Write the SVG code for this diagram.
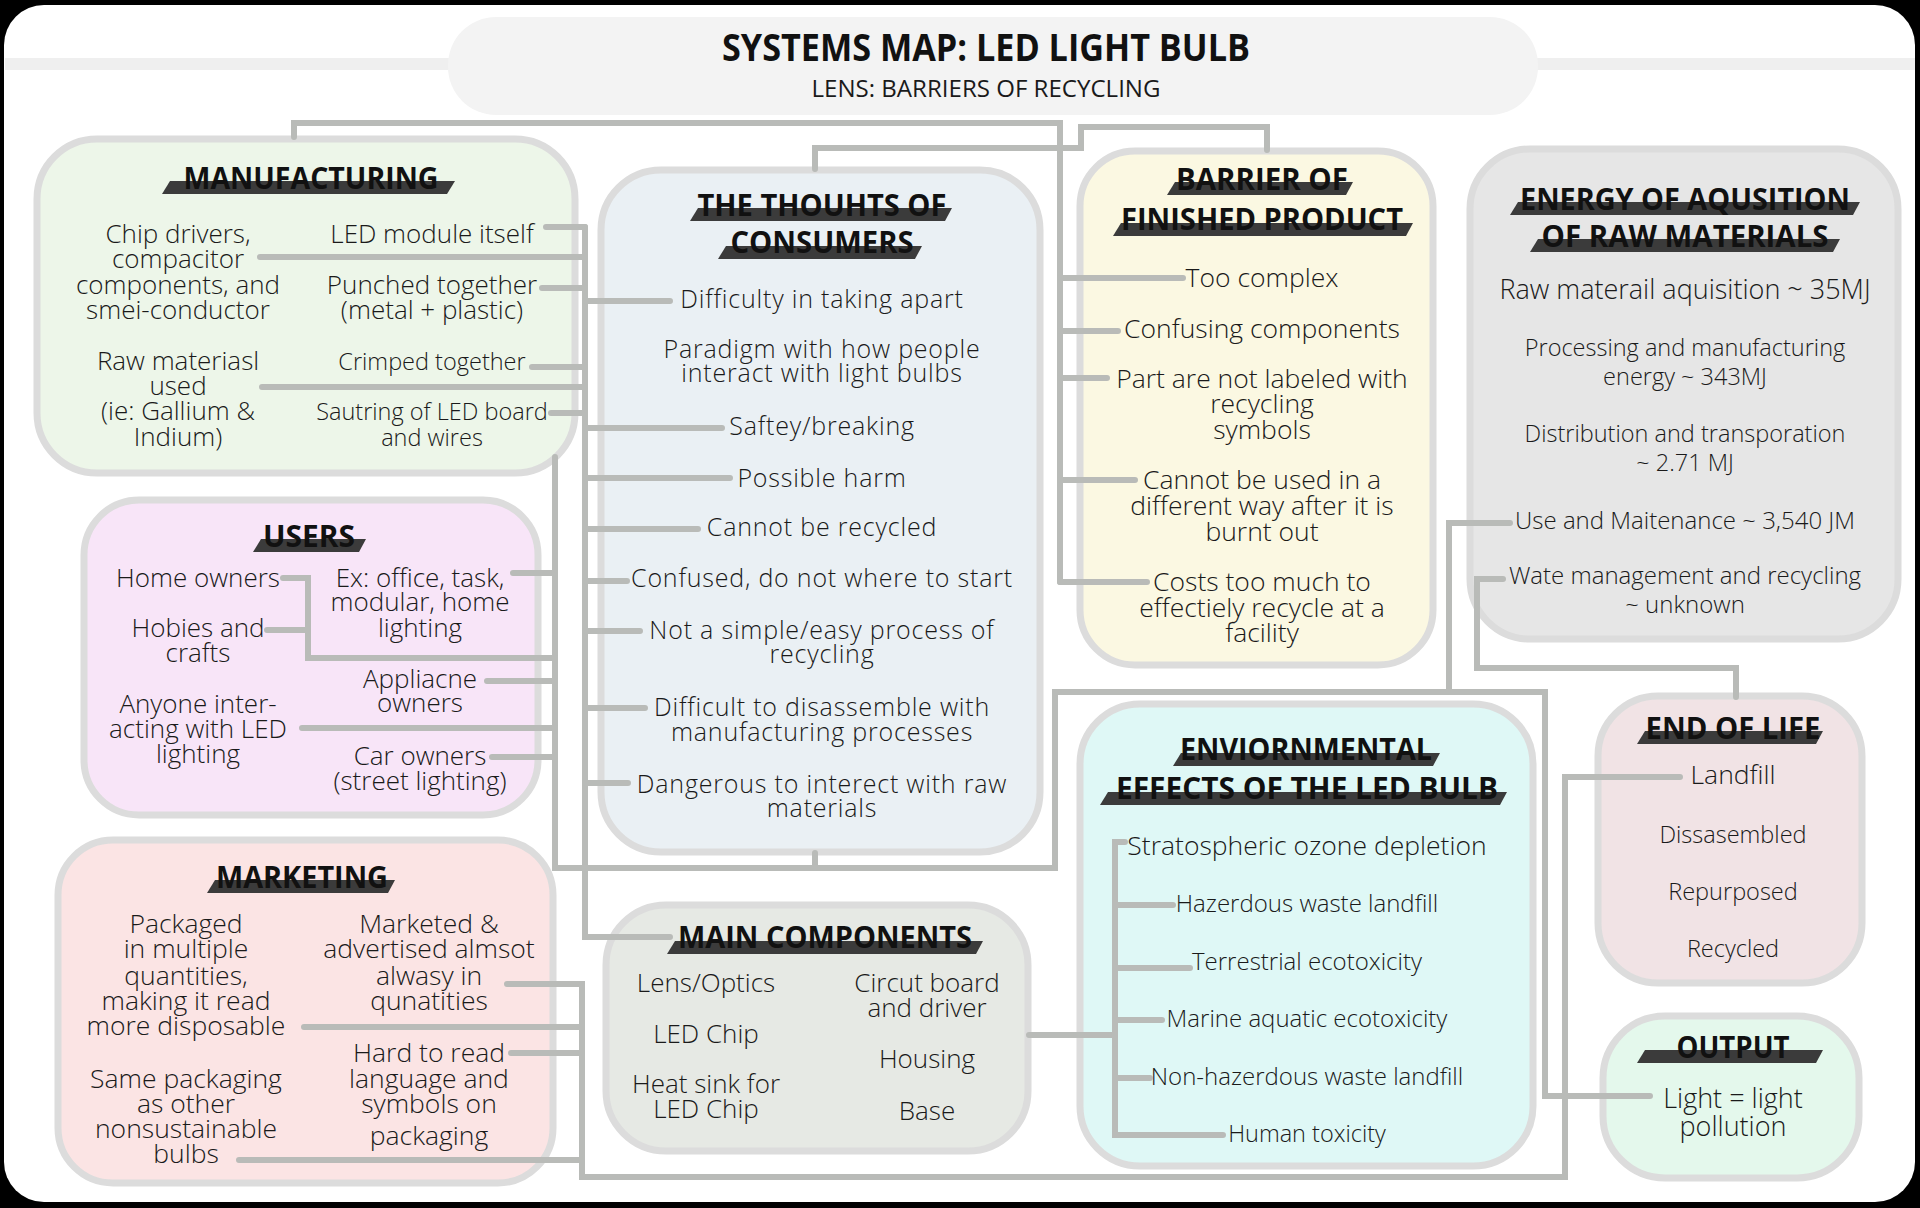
<svg xmlns="http://www.w3.org/2000/svg" width="1920" height="1208" viewBox="0 0 1920 1208">
<style>
.box{stroke:#dcdcdc;stroke-width:7}
.hd{font-family:"Open Sans","Liberation Sans",sans-serif;font-weight:700;font-size:31px;fill:#111;text-anchor:middle}
.bar{fill:#3b3b3b}
.t{font-family:"Open Sans","Liberation Sans",sans-serif;font-weight:300;font-size:26px;fill:#1a1a1a;text-anchor:middle}
.cs{font-size:25px;letter-spacing:0.8px}
.s23{font-size:23.5px}
.s24{font-size:24px}
.s26{font-size:26.5px}
.c{fill:none;stroke:#b9bbb8;stroke-width:6;stroke-linecap:round;stroke-linejoin:miter}
</style>
<rect x="0" y="0" width="1920" height="1208" fill="#000"/>
<rect x="4" y="5" width="1911" height="1197" rx="40" fill="#fff"/>
<rect x="5" y="58" width="1910" height="12" fill="#efefef"/>

<g id="title">
<rect x="448" y="17" width="1090" height="98" rx="48" fill="#f3f3f3"/>
<text x="986" y="61" class="hd" style="font-size:38px" textLength="528" lengthAdjust="spacingAndGlyphs">SYSTEMS MAP: LED LIGHT BULB</text>
<text x="986" y="97" class="t" style="font-size:23px;font-weight:400" textLength="349" lengthAdjust="spacingAndGlyphs">LENS: BARRIERS OF RECYCLING</text>
</g>

<g id="manufacturing">
<rect class="box" x="37" y="139" width="538" height="334" rx="60" fill="#edf6e9"/>
<polygon class="bar" points="170,181 455,181 447,194 162,194"/>
<text class="hd" x="311" y="189" textLength="255" lengthAdjust="spacingAndGlyphs">MANUFACTURING</text>
<text class="t" x="178" y="243">Chip drivers,<tspan x="178" y="268">compacitor</tspan><tspan x="178" y="294">components, and</tspan><tspan x="178" y="319">smei-conductor</tspan></text>
<text class="t" x="178" y="370">Raw materiasl<tspan x="178" y="395">used</tspan><tspan x="178" y="420">(ie: Gallium &amp;</tspan><tspan x="178" y="446">Indium)</tspan></text>
<text class="t" x="432" y="243">LED module itself</text>
<text class="t" x="432" y="294">Punched together<tspan x="432" y="319">(metal + plastic)</tspan></text>
<text class="t s23" x="432" y="370">Crimped together</text>
<text class="t s23" x="432" y="420">Sautring of LED board<tspan x="432" y="446">and wires</tspan></text>
</g>

<g id="consumers">
<rect class="box" x="601" y="170" width="439" height="682" rx="60" fill="#eaf0f4"/>
<polygon class="bar" points="698,208 952,208 945,221 690,221"/>
<text class="hd" x="822" y="216" textLength="249" lengthAdjust="spacingAndGlyphs">THE THOUHTS OF</text>
<polygon class="bar" points="726,246 922,246 915,259 718,259"/>
<text class="hd" x="822" y="253" textLength="183" lengthAdjust="spacingAndGlyphs">CONSUMERS</text>
<text class="t cs" x="822" y="308">Difficulty in taking apart</text>
<text class="t cs" x="822" y="358">Paradigm with how people<tspan x="822" y="382">interact with light bulbs</tspan></text>
<text class="t cs" x="822" y="435">Saftey/breaking</text>
<text class="t cs" x="822" y="487">Possible harm</text>
<text class="t cs" x="822" y="536">Cannot be recycled</text>
<text class="t cs" x="822" y="587">Confused, do not where to start</text>
<text class="t cs" x="822" y="639">Not a simple/easy process of<tspan x="822" y="663">recycling</tspan></text>
<text class="t cs" x="822" y="716">Difficult to disassemble with<tspan x="822" y="741">manufacturing processes</tspan></text>
<text class="t cs" x="822" y="793">Dangerous to interect with raw<tspan x="822" y="817">materials</tspan></text>
</g>

<g id="barrier">
<rect class="box" x="1080" y="151" width="353" height="514" rx="55" fill="#fbf8e2"/>
<polygon class="bar" points="1175,182 1353,182 1346,195 1167,195"/>
<text class="hd" x="1262" y="190" textLength="172" lengthAdjust="spacingAndGlyphs">BARRIER OF</text>
<polygon class="bar" points="1121,223 1413,223 1406,236 1113,236"/>
<text class="hd" x="1262" y="230" textLength="282" lengthAdjust="spacingAndGlyphs">FINISHED PRODUCT</text>
<text class="t s26" x="1262" y="287">Too complex</text>
<text class="t s26" x="1262" y="338">Confusing components</text>
<text class="t s26" x="1262" y="388">Part are not labeled with<tspan x="1262" y="413">recycling</tspan><tspan x="1262" y="439">symbols</tspan></text>
<text class="t s26" x="1262" y="489">Cannot be used in a<tspan x="1262" y="515">different way after it is</tspan><tspan x="1262" y="541">burnt out</tspan></text>
<text class="t s26" x="1262" y="591">Costs too much to<tspan x="1262" y="617">effectiely recycle at a</tspan><tspan x="1262" y="642">facility</tspan></text>
</g>

<g id="energy">
<rect class="box" x="1470" y="149" width="428" height="490" rx="60" fill="#e6e6e6"/>
<polygon class="bar" points="1518,202 1860,202 1853,215 1510,215"/>
<text class="hd" x="1685" y="210" textLength="330" lengthAdjust="spacingAndGlyphs">ENERGY OF AQUSITION</text>
<polygon class="bar" points="1538,239 1840,239 1833,252 1530,252"/>
<text class="hd" x="1685" y="247" textLength="287" lengthAdjust="spacingAndGlyphs">OF RAW MATERIALS</text>
<text class="t" style="font-size:27px" x="1685" y="299">Raw materail aquisition ~ 35MJ</text>
<text class="t s23" x="1685" y="356">Processing and manufacturing<tspan x="1685" y="385">energy ~ 343MJ</tspan></text>
<text class="t s23" x="1685" y="442">Distribution and transporation<tspan x="1685" y="471">~ 2.71 MJ</tspan></text>
<text class="t s24" x="1685" y="529">Use and Maitenance ~ 3,540 JM</text>
<text class="t s24" x="1685" y="584">Wate management and recycling<tspan x="1685" y="613">~ unknown</tspan></text>
</g>

<g id="users">
<rect class="box" x="84" y="500" width="454" height="315" rx="55" fill="#f8e5f8"/>
<polygon class="bar" points="261,539 366,539 359,552 253,552"/>
<text class="hd" x="309" y="547" textLength="92" lengthAdjust="spacingAndGlyphs">USERS</text>
<text class="t" x="198" y="587">Home owners</text>
<text class="t" x="198" y="637">Hobies and<tspan x="198" y="662">crafts</tspan></text>
<text class="t" x="198" y="713">Anyone inter-<tspan x="198" y="738">acting with LED</tspan><tspan x="198" y="763">lighting</tspan></text>
<text class="t" x="420" y="587">Ex: office, task,<tspan x="420" y="611">modular, home</tspan><tspan x="420" y="637">lighting</tspan></text>
<text class="t" x="420" y="688">Appliacne<tspan x="420" y="712">owners</tspan></text>
<text class="t" x="420" y="765">Car owners<tspan x="420" y="790">(street lighting)</tspan></text>
</g>

<g id="marketing">
<rect class="box" x="58" y="840" width="495" height="343" rx="55" fill="#fbe4e4"/>
<polygon class="bar" points="215,880 395,880 388,893 207,893"/>
<text class="hd" x="302" y="888" textLength="172" lengthAdjust="spacingAndGlyphs">MARKETING</text>
<text class="t s26" x="186" y="933">Packaged<tspan x="186" y="958">in multiple</tspan><tspan x="186" y="985">quantities,</tspan><tspan x="186" y="1010">making it read</tspan><tspan x="186" y="1035">more disposable</tspan></text>
<text class="t s26" x="186" y="1088">Same packaging<tspan x="186" y="1113">as other</tspan><tspan x="186" y="1138">nonsustainable</tspan><tspan x="186" y="1163">bulbs</tspan></text>
<text class="t s26" x="429" y="933">Marketed &amp;<tspan x="429" y="958">advertised almsot</tspan><tspan x="429" y="985">alwasy in</tspan><tspan x="429" y="1010">qunatities</tspan></text>
<text class="t s26" x="429" y="1062">Hard to read<tspan x="429" y="1088">language and</tspan><tspan x="429" y="1113">symbols on</tspan><tspan x="429" y="1145">packaging</tspan></text>
</g>

<g id="main-components">
<rect class="box" x="606" y="905" width="422" height="246" rx="60" fill="#e6e9e4"/>
<polygon class="bar" points="675,941 983,941 976,954 667,954"/>
<text class="hd" x="825" y="948" textLength="294" lengthAdjust="spacingAndGlyphs">MAIN COMPONENTS</text>
<text class="t" x="706" y="992">Lens/Optics</text>
<text class="t" x="706" y="1043">LED Chip</text>
<text class="t" x="706" y="1093">Heat sink for<tspan x="706" y="1118">LED Chip</tspan></text>
<text class="t" x="927" y="992">Circut board<tspan x="927" y="1017">and driver</tspan></text>
<text class="t" x="927" y="1068">Housing</text>
<text class="t" x="927" y="1120">Base</text>
</g>

<g id="environmental">
<rect class="box" x="1080" y="704" width="453" height="462" rx="60" fill="#dff8f6"/>
<polygon class="bar" points="1181,753 1440,753 1433,766 1173,766"/>
<text class="hd" x="1306" y="760" textLength="252" lengthAdjust="spacingAndGlyphs">ENVIORNMENTAL</text>
<polygon class="bar" points="1108,792 1507,792 1500,805 1100,805"/>
<text class="hd" x="1307" y="799" textLength="382" lengthAdjust="spacingAndGlyphs">EFFECTS OF THE LED BULB</text>
<text class="t s26" x="1307" y="855">Stratospheric ozone depletion</text>
<text class="t s24" x="1307" y="912">Hazerdous waste landfill</text>
<text class="t s24" x="1307" y="970">Terrestrial ecotoxicity</text>
<text class="t s24" x="1307" y="1027">Marine aquatic ecotoxicity</text>
<text class="t s24" x="1307" y="1085">Non-hazerdous waste landfill</text>
<text class="t s23" x="1307" y="1142">Human toxicity</text>
</g>

<g id="end-of-life">
<rect class="box" x="1598" y="696" width="264" height="287" rx="60" fill="#f1e3e5"/>
<polygon class="bar" points="1645,731 1823,731 1816,744 1637,744"/>
<text class="hd" x="1733" y="739" textLength="175" lengthAdjust="spacingAndGlyphs">END OF LIFE</text>
<text class="t s26" x="1733" y="784">Landfill</text>
<text class="t s23" x="1733" y="843">Dissasembled</text>
<text class="t s23" x="1733" y="900">Repurposed</text>
<text class="t s23" x="1733" y="957">Recycled</text>
</g>

<g id="output">
<rect class="box" x="1603" y="1016" width="256" height="162" rx="62" fill="#e4f8ec"/>
<polygon class="bar" points="1645,1050 1823,1050 1816,1063 1637,1063"/>
<text class="hd" x="1733" y="1058" textLength="113" lengthAdjust="spacingAndGlyphs">OUTPUT</text>
<text class="t" style="font-size:27px" x="1733" y="1108">Light = light<tspan x="1733" y="1136">pollution</tspan></text>
</g>

<g id="connectors">
<path class="c" d="M294,137 V123 H1060 V582"/>
<path class="c" d="M1060,278 H1183 M1060,331 H1118 M1060,378 H1107 M1060,480 H1135 M1060,582 H1147"/>
<path class="c" d="M815,169 V148 H1081 V127 H1267 V150"/>
<path class="c" d="M585,227 V937 H670"/>
<path class="c" d="M546,227 H585 M260,257 H585 M542,288 H585 M532,367 H585 M262,387 H585 M551,413 H585"/>
<path class="c" d="M585,301 H670 M585,428 H722 M585,478 H730 M585,529 H698 M585,581 H627 M585,631 H640 M585,708 H645 M585,783 H628"/>
<path class="c" d="M555,457 V868 H1055 V692 H1545 V1096 H1650"/>
<path class="c" d="M815,853 V868"/>
<path class="c" d="M1449,692 V523 H1510"/>
<path class="c" d="M1503,579 H1477 V668 H1736 V697"/>
<path class="c" d="M513,573 H555 M283,578 H308 V658 H555 M267,630 H308 M487,681 H555 M302,728 H555 M492,757 H555"/>
<path class="c" d="M507,984 H582 V1177 H1565 V777 H1680 M304,1027 H582 M511,1053 H582 M239,1160 H582"/>
<path class="c" d="M1029,1035 H1115 M1125,842 H1115 V1135 H1223 M1115,905 H1173 M1115,968 H1190 M1115,1020 H1162 M1115,1078 H1150"/>
</g>
</svg>
